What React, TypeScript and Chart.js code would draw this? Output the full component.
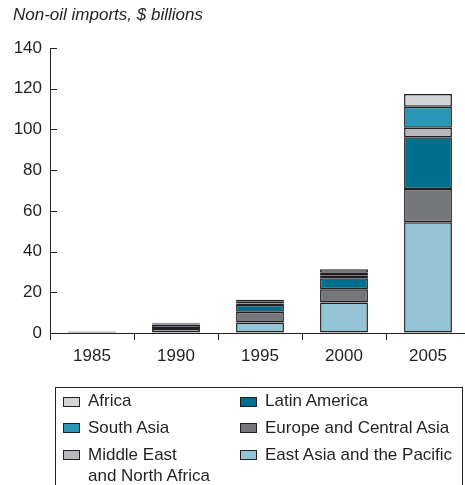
import React, { useEffect, useRef } from "react";
import { Chart, registerables } from "chart.js";

Chart.register(...registerables);

const years = ["1985", "1990", "1995", "2000", "2005"];
const eastAsia = [0.3, 2.0, 5.1, 15.0, 54.4];
const europe = [0.15, 0.5, 5.4, 6.5, 16.3];
const latinAmerica = [0.2, 1.7, 3.3, 5.4, 25.4];
const middleEast = [0.05, 0.2, 0.7, 1.2, 4.7];
const southAsia = [0.05, 0.3, 0.8, 1.5, 10.3];
const africa = [0.1, 0.3, 1.0, 1.7, 6.3];
const yTicks = [0, 20, 40, 60, 80, 100, 120, 140];

const INK = "#231f20";
const FONT = "'Liberation Sans', Arial, sans-serif";

const seriesDefs = [
  { label: "East Asia and the Pacific", data: eastAsia, color: "#95c4d6" },
  { label: "Europe and Central Asia", data: europe, color: "#76777b" },
  { label: "Latin America", data: latinAmerica, color: "#006f8e" },
  { label: "Middle East and North Africa", data: middleEast, color: "#b8b9bc" },
  { label: "South Asia", data: southAsia, color: "#2a97b4" },
  { label: "Africa", data: africa, color: "#d3d4d6" },
];

const legendItems = [
  { lines: ["Africa"], color: "#d3d4d6", col: 0, row: 0 },
  { lines: ["South Asia"], color: "#2a97b4", col: 0, row: 1 },
  { lines: ["Middle East", "and North Africa"], color: "#b8b9bc", col: 0, row: 2 },
  { lines: ["Latin America"], color: "#006f8e", col: 1, row: 0 },
  { lines: ["Europe and Central Asia"], color: "#76777b", col: 1, row: 1 },
  { lines: ["East Asia and the Pacific"], color: "#95c4d6", col: 1, row: 2 },
];

const innerTicks = {
  id: "innerTicks",
  afterDraw(chart: any) {
    const y = chart.scales.y;
    const ctx = chart.ctx;
    ctx.save();
    ctx.strokeStyle = INK;
    ctx.lineWidth = 1;
    for (const v of yTicks) {
      const py = Math.round(y.getPixelForValue(v)) + 0.5;
      ctx.beginPath();
      ctx.moveTo(chart.chartArea.left, py);
      ctx.lineTo(chart.chartArea.left + 7, py);
      ctx.stroke();
    }
    ctx.restore();
  },
};

export default function App() {
  const ref = useRef<HTMLCanvasElement>(null);
  useEffect(() => {
    if (!ref.current) return;
    const chart = new Chart(ref.current, {
      type: "bar",
      data: {
        labels: years,
        datasets: seriesDefs.map((s) => ({
          label: s.label,
          data: s.data,
          backgroundColor: s.color,
          borderColor: INK,
          borderWidth: 1.5,
          borderSkipped: false,
          barPercentage: 0.57,
          categoryPercentage: 1,
        })),
      },
      options: {
        animation: false,
        responsive: false,
        maintainAspectRatio: false,
        layout: { padding: { top: 48, left: 0, right: 0, bottom: 0 } },
        plugins: { legend: { display: false }, tooltip: { enabled: false } },
        scales: {
          x: {
            stacked: true,
            afterFit: (s: any) => {
              s.height = 152;
            },
            grid: {
              offset: true,
              drawOnChartArea: false,
              drawTicks: true,
              tickLength: 7,
              color: INK,
            },
            border: { display: true, color: INK, width: 1 },
            ticks: { color: INK, font: { family: FONT, size: 17 }, padding: 6 },
          },
          y: {
            stacked: true,
            min: 0,
            max: 140,
            afterFit: (s: any) => {
              s.width = 50;
            },
            afterBuildTicks: (s: any) => {
              s.ticks = yTicks.map((v) => ({ value: v }));
            },
            grid: { display: true, drawOnChartArea: false, drawTicks: false },
            border: { display: true, color: INK, width: 1 },
            ticks: { color: INK, font: { family: FONT, size: 17 }, padding: 8 },
          },
        },
      },
      plugins: [innerTicks],
    });
    return () => chart.destroy();
  }, []);

  const colX = [63, 240];
  const rowBase = [406.7, 433.3, 460];

  return (
    <div
      style={{
        position: "fixed",
        left: 0,
        top: 0,
        width: 465,
        height: 485,
        overflow: "hidden",
        background: "#fff",
        fontFamily: FONT,
        color: INK,
      }}
    >
      <canvas ref={ref} width={470} height={485} style={{ position: "absolute", left: 0, top: 0, width: 470, height: 485 }} />
      <div
        style={{
          position: "absolute",
          left: 13,
          top: 6,
          fontSize: 17,
          fontStyle: "italic",
          lineHeight: "17px",
          whiteSpace: "nowrap",
        }}
      >
        Non-oil imports, $ billions
      </div>
      <div
        style={{
          position: "absolute",
          left: 55,
          top: 387,
          width: 408,
          height: 120,
          border: `1px solid ${INK}`,
          boxSizing: "border-box",
        }}
      />
      {legendItems.map((it, i) => (
        <React.Fragment key={i}>
          <div
            style={{
              position: "absolute",
              left: colX[it.col],
              top: rowBase[it.row] - 10,
              width: 17,
              height: 10,
              background: it.color,
              border: `1px solid ${INK}`,
              boxSizing: "border-box",
            }}
          />
          {it.lines.map((ln, j) => (
            <div
              key={j}
              style={{
                position: "absolute",
                left: colX[it.col] + 25,
                top: rowBase[it.row] - 14.4 + j * 21.5,
                fontSize: 17,
                lineHeight: "17px",
                whiteSpace: "nowrap",
              }}
            >
              {ln}
            </div>
          ))}
        </React.Fragment>
      ))}
    </div>
  );
}
